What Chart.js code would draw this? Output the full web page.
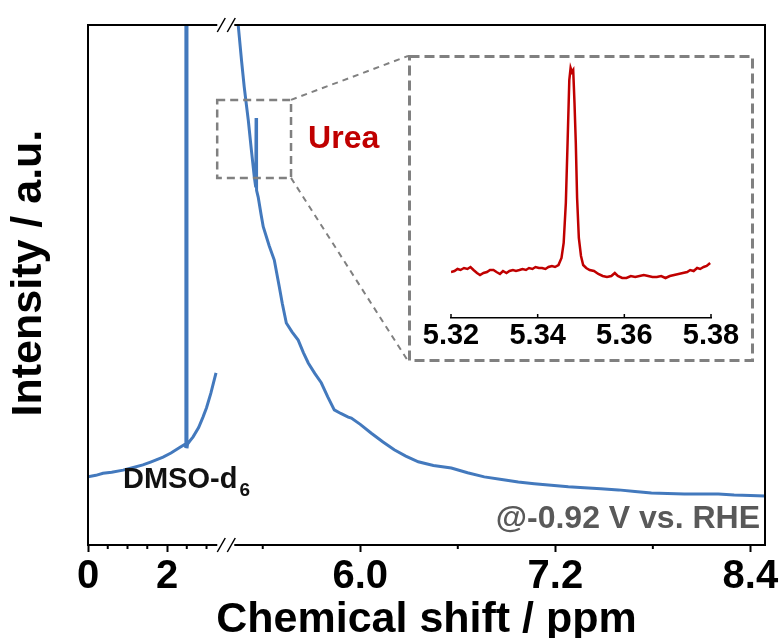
<!DOCTYPE html>
<html>
<head>
<meta charset="utf-8">
<script src="https://cdn.jsdelivr.net/npm/chart.js@4.4.1/dist/chart.umd.min.js"></script>
<style>
    html, body { margin: 0; padding: 0; background: #fff; }
    #wrap { position: relative; width: 779px; height: 638px; }
    #main { position: absolute; left: 0; top: 0; }
    #inset { position: absolute; left: 408px; top: 55px; }
</style>
</head>
<body>
<div id="wrap">
    <canvas id="main" width="779" height="638"></canvas>
    <canvas id="inset" width="346" height="307"></canvas>
</div>
<script>
/* 1H NMR spectrum, broken x axis + urea inset */

// left part of the spectrum (0 - 3.4 ppm), DMSO-d6 solvent line at 2.5
const LEFT_PPM = [0, 0.2, 0.38, 0.6, 0.89, 1.1, 1.39, 1.6, 1.9, 2.1, 2.33, 2.46, 2.475, 2.48, 2.5, 2.505, 2.52, 2.6, 2.66, 2.8, 2.91, 3.0, 3.11, 3.24];
const LEFT_INT = [13.1, 13.4, 13.8, 14.0, 14.4, 14.8, 15.4, 16.0, 16.9, 17.7, 18.8, 19.4, 18.7, 130, 130, 18.6, 19.4, 20.2, 20.8, 22.6, 24.6, 26.4, 29.2, 33.1];

// right part of the spectrum (5.2 - 8.5 ppm), water tail + urea line
const RIGHT_PPM = [5.237, 5.249, 5.27, 5.286, 5.30, 5.311, 5.33, 5.348, 5.357, 5.359, 5.362, 5.372, 5.39, 5.403, 5.44, 5.471, 5.502, 5.52, 5.545, 5.58, 5.618, 5.65, 5.68, 5.72, 5.76, 5.80, 5.84, 5.88, 5.926, 5.945, 6.0, 6.068, 6.14, 6.209, 6.28, 6.357, 6.45, 6.56, 6.66, 6.763, 6.87, 6.972, 7.07, 7.175, 7.28, 7.378, 7.48, 7.588, 7.69, 7.791, 7.89, 7.994, 8.1, 8.203, 8.3, 8.4, 8.49];
const RIGHT_INT = [105, 100, 93, 88.1, 84.5, 81.7, 76, 70.8, 68.8, 82.1, 68.2, 66.9, 63.5, 61.2, 57.5, 54.8, 49.6, 46.5, 42.7, 41.0, 39.4, 37.0, 35.0, 33.0, 31.2, 28.5, 26.0, 25.3, 24.6, 24.4, 23.2, 21.5, 19.8, 18.3, 17.1, 16.0, 15.3, 14.8, 13.9, 13.1, 12.6, 12.1, 11.8, 11.5, 11.2, 11.0, 10.8, 10.6, 10.3, 10.0, 9.9, 9.8, 9.8, 9.8, 9.6, 9.5, 9.4];

// inset: urea peak
const INSET_PPM = [5.3200, 5.3208, 5.3215, 5.3222, 5.3230, 5.3238, 5.3245, 5.3252, 5.3260, 5.3267, 5.3275, 5.3283, 5.3290, 5.3298, 5.3305, 5.3313, 5.3320, 5.3328, 5.3335, 5.3343, 5.3350, 5.3358, 5.3365, 5.3373, 5.3380, 5.3388, 5.3395, 5.3403, 5.3410, 5.3418, 5.3425, 5.3433, 5.3440, 5.3448, 5.3455, 5.3460, 5.3465, 5.3469, 5.3473, 5.3476, 5.3479, 5.3482, 5.3485, 5.3488, 5.3491, 5.3495, 5.3500, 5.3505, 5.3512, 5.3520, 5.3530, 5.3540, 5.3550, 5.3560, 5.3570, 5.3578, 5.3585, 5.3595, 5.3605, 5.3615, 5.3625, 5.3635, 5.3645, 5.3655, 5.3665, 5.3675, 5.3685, 5.3695, 5.3705, 5.3715, 5.3725, 5.3735, 5.3745, 5.3752, 5.3760, 5.3768, 5.3775, 5.3783, 5.3790, 5.3798];
const INSET_INT = [46, 47, 49, 48, 50, 49, 51, 48, 45, 43, 45, 46, 48, 48, 46, 44, 47, 45, 47, 48, 47, 48, 49, 48, 50, 49, 51, 50, 50, 49, 51, 52, 51, 53, 60, 75, 115, 175, 238, 250, 246, 248, 215, 175, 120, 80, 62, 53, 50, 48, 47, 44, 42, 41, 42, 45, 42, 40, 40, 42, 41, 42, 43, 42, 41, 41, 42, 40, 42, 43, 44, 45, 46, 48, 47, 50, 49, 51, 52, 55];

const MAJOR_TICKS = [0, 2, 6.0, 7.2, 8.4];
const MAJOR_LABELS = ['0', '2', '6.0', '7.2', '8.4'];
const MINOR_TICKS = [0.5, 1, 1.5, 2.5, 3, 5.4, 6.6, 7.8];
const INSET_TICKS = [5.32, 5.34, 5.36, 5.38];
const INSET_LABELS = ['5.32', '5.34', '5.36', '5.38'];

// broken axis: left part 1:1, right part stretched
const LEFT_END = 3.4, RIGHT_START = 5.2, GAP = 0.2, RIGHT_STRETCH = 4.114;
function toV(ppm) {
    return ppm <= LEFT_END ? ppm : LEFT_END + GAP + (ppm - RIGHT_START) * RIGHT_STRETCH;
}

const FONT = "Arial, 'Liberation Sans', sans-serif";
const BLUE = '#4379bd';
const RED = '#c00000';
const GREY = '#808080';
const INSET_BOX = { left: 408, top: 55, width: 346, height: 307 };

Chart.defaults.font.family = FONT;

function line(ctx, x1, y1, x2, y2) {
    ctx.beginPath();
    ctx.moveTo(x1, y1);
    ctx.lineTo(x2, y2);
    ctx.stroke();
}

const framePlugin = {
    id: 'frame',
    afterDraw(chart) {
        const { ctx, chartArea: a, scales: { x, y } } = chart;
        ctx.save();
        ctx.strokeStyle = '#000';
        ctx.lineWidth = 2;
        ctx.strokeRect(a.left, a.top, a.width, a.height);

        // minor ticks
        MINOR_TICKS.forEach(p => {
            const px = x.getPixelForValue(toV(p));
            line(ctx, px, a.bottom, px, a.bottom + 4);
        });

        // axis break marks
        const bx = (x.getPixelForValue(LEFT_END) + x.getPixelForValue(LEFT_END + GAP)) / 2;
        [a.top, a.bottom].forEach(yy => {
            ctx.fillStyle = '#fff';
            ctx.fillRect(bx - 9, yy - 2, 17, 4);
            ctx.lineWidth = 1.5;
            [-5, 5].forEach(d => line(ctx, bx + d - 4, yy + 7, bx + d + 4, yy - 7));
        });

        // zoom box + connectors to inset
        const bl = x.getPixelForValue(toV(3.27)), br = x.getPixelForValue(toV(5.574));
        const bt = y.getPixelForValue(85.6), bb = y.getPixelForValue(70.6);
        ctx.strokeStyle = GREY;
        ctx.lineWidth = 2.5;
        ctx.setLineDash([8, 5]);
        ctx.strokeRect(bl, bt, br - bl, bb - bt);
        ctx.lineWidth = 2;
        ctx.setLineDash([6, 5]);
        line(ctx, br, bt, INSET_BOX.left, INSET_BOX.top + 1);
        line(ctx, br, bb, INSET_BOX.left, INSET_BOX.top + INSET_BOX.height - 1);
        ctx.setLineDash([]);

        // labels
        ctx.textAlign = 'left';
        ctx.textBaseline = 'alphabetic';
        ctx.font = 'bold 32px ' + FONT;
        ctx.fillStyle = RED;
        ctx.fillText('Urea', x.getPixelForValue(toV(5.679)), y.getPixelForValue(76.3));

        ctx.fillStyle = '#111';
        ctx.font = 'bold 29px ' + FONT;
        const dx = x.getPixelForValue(toV(0.886)), dy = y.getPixelForValue(10.96);
        ctx.fillText('DMSO-d', dx, dy);
        const w = ctx.measureText('DMSO-d').width;
        ctx.font = 'bold 19px ' + FONT;
        ctx.fillText('6', dx + w + 2, dy + 8);

        ctx.fillStyle = '#595959';
        ctx.font = 'bold 32px ' + FONT;
        ctx.textAlign = 'right';
        ctx.fillText('@-0.92 V vs. RHE', a.right - 5, a.bottom - 17);
        ctx.restore();
    }
};

new Chart(document.getElementById('main'), {
    type: 'line',
    data: {
        datasets: [{
            data: LEFT_PPM.map((p, i) => ({ x: toV(p), y: LEFT_INT[i] })),
            borderColor: BLUE,
        }, {
            data: RIGHT_PPM.map((p, i) => ({ x: toV(p), y: RIGHT_INT[i] })),
            borderColor: BLUE,
        }]
    },
    options: {
        responsive: false,
        animation: false,
        layout: { padding: { top: 25, right: 14, left: 0, bottom: 0 } },
        elements: { point: { radius: 0 }, line: { borderWidth: 3, tension: 0 } },
        plugins: { legend: { display: false }, tooltip: { enabled: false } },
        scales: {
            x: {
                type: 'linear',
                bounds: 'data',
                min: 0,
                max: toV(8.49),
                afterBuildTicks: s => { s.ticks = MAJOR_TICKS.map(p => ({ value: toV(p) })); },
                afterFit: s => { s.height = 93; s.paddingLeft = 0; s.paddingRight = 0; },
                ticks: {
                    autoSkip: false, maxRotation: 0, padding: 5, color: '#000',
                    font: { size: 40, weight: 'bold', lineHeight: 1 },
                    callback: (v, i) => MAJOR_LABELS[i]
                },
                grid: { display: true, drawOnChartArea: false, drawTicks: true, tickLength: 7, tickWidth: 2, tickColor: '#000' },
                border: { display: false },
                title: {
                    display: true, text: 'Chemical shift / ppm', color: '#000', padding: 0,
                    font: { size: 43, weight: 'bold', lineHeight: 0.84 }
                }
            },
            y: {
                min: 0,
                max: 100,
                afterFit: s => { s.width = 88; },
                ticks: { display: false },
                grid: { display: false },
                border: { display: false },
                title: {
                    display: true, text: '  Intensity / a.u.', color: '#000',
                    padding: { top: 7.5, bottom: 0 },
                    font: { size: 43, weight: 'bold', lineHeight: 1 }
                }
            }
        }
    },
    plugins: [framePlugin]
});

const insetPlugin = {
    id: 'insetFrame',
    afterDraw(chart) {
        const { ctx, chartArea: a, scales: { x } } = chart;
        ctx.save();
        ctx.strokeStyle = '#000';
        ctx.lineWidth = 1.5;
        INSET_TICKS.forEach(v => {
            const px = x.getPixelForValue(v);
            line(ctx, px, a.bottom, px, a.bottom - 4);
        });
        ctx.strokeStyle = GREY;
        ctx.lineWidth = 3;
        ctx.setLineDash([10, 5]);
        ctx.strokeRect(1.5, 1.5, chart.width - 3, chart.height - 3);
        ctx.restore();
    }
};

new Chart(document.getElementById('inset'), {
    type: 'line',
    data: {
        datasets: [{
            data: INSET_PPM.map((p, i) => ({ x: p, y: INSET_INT[i] })),
            borderColor: RED,
            borderWidth: 2.5,
            pointRadius: 0,
            tension: 0
        }]
    },
    options: {
        responsive: false,
        animation: false,
        layout: { padding: { left: 43, right: 43, top: 3, bottom: 0 } },
        plugins: { legend: { display: false }, tooltip: { enabled: false } },
        scales: {
            x: {
                type: 'linear',
                bounds: 'data',
                min: 5.32,
                max: 5.38,
                afterBuildTicks: s => { s.ticks = INSET_TICKS.map(v => ({ value: v })); },
                afterFit: s => { s.height = 44; s.paddingLeft = 0; s.paddingRight = 0; },
                ticks: {
                    autoSkip: false, maxRotation: 0, padding: 3.5, color: '#000',
                    font: { size: 29, weight: 'bold', lineHeight: 1 },
                    callback: (v, i) => INSET_LABELS[i]
                },
                grid: { display: false, drawTicks: false },
                border: { display: true, color: '#000', width: 1.5 }
            },
            y: { display: false, min: 0, max: 260 }
        }
    },
    plugins: [insetPlugin]
});
</script>
</body>
</html>
